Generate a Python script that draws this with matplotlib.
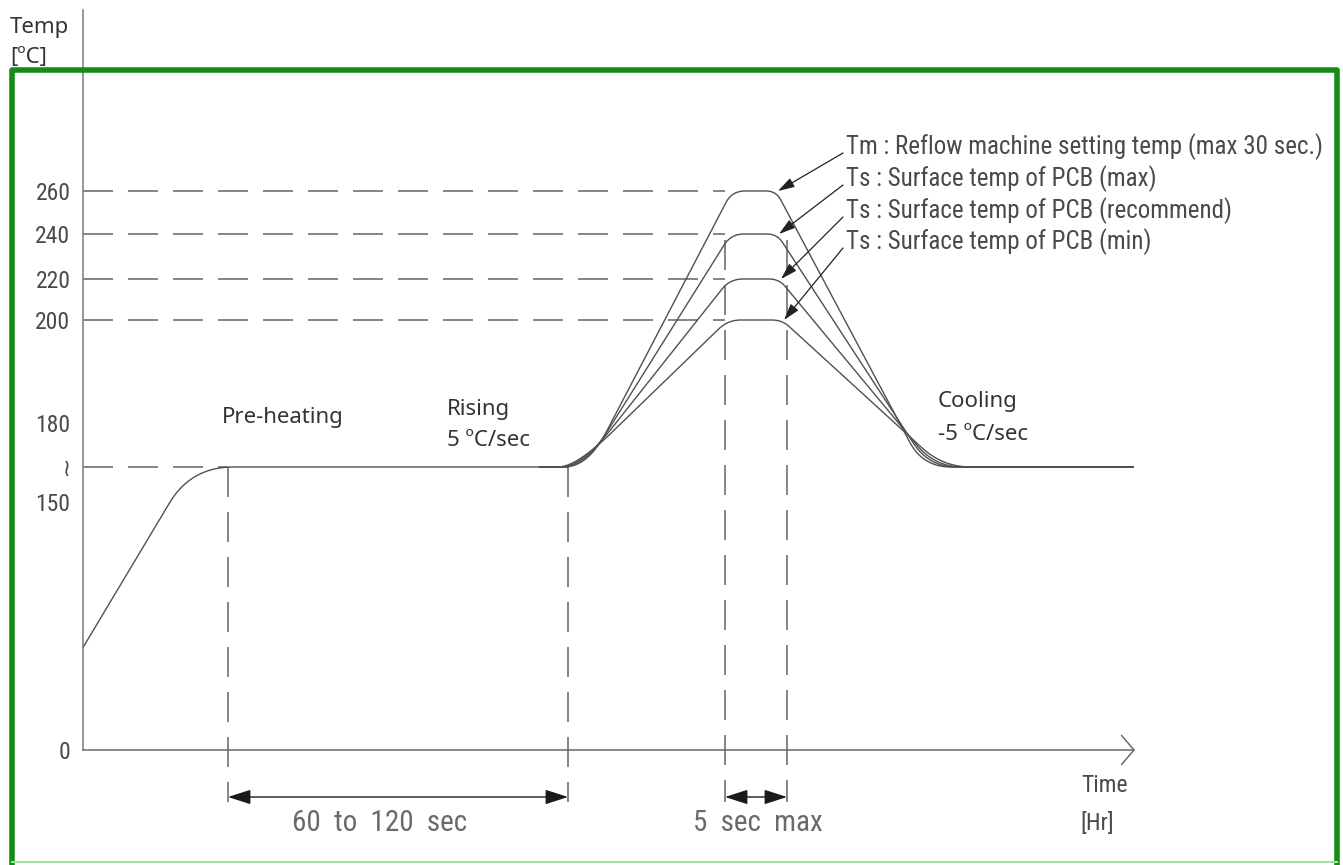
import numpy as np
import matplotlib
matplotlib.use('Agg')
import matplotlib.pyplot as plt
import matplotlib.transforms as mtransforms
from matplotlib.lines import Line2D
from matplotlib.ticker import NullLocator

W, H = 1343, 865

# y axis is not to scale (broken between 150 and 180): temperature -> drawing height
scale_temps = [-200, 0, 150, 165, 180, 200, 220, 240, 260, 400]
scale_pos = [-331, 0, 248, 283, 327, 430, 471, 516, 559, 860]

tick_temps = [0, 150, 165, 180, 200, 220, 240, 260]
tick_labels = ['0', '150', '≀', '180', '200', '220', '240', '260']

# pre-heating part (time in arbitrary units)
preheat_time = [0, 108, 485]
preheat_temp = [62, 165, 165]
soak_temp = 165

# reflow profiles, one per peak temperature
peak_temps = [260, 240, 220, 200]
rise_begin = [457, 457, 457, 457]
rise_knee = [505, 502, 498, 493]
peak_start = [649, 648, 647, 645]
peak_end = [693, 694, 696, 699]
cool_end = [840, 846, 852, 860]
profile_end = [1050, 1050, 1050, 1050]

profile_labels = ['Tm : Reflow machine setting temp (max 30 sec.)',
                  'Ts : Surface temp of PCB (max)',
                  'Ts : Surface temp of PCB (recommend)',
                  'Ts : Surface temp of PCB (min)']

preheat_window = [145, 485]
peak_window = [642, 704]

narrow = ['Roboto Condensed', 'DejaVu Sans']
gothic = ['Noto Sans', 'DejaVu Sans']


def fwd(t):
    return np.interp(t, scale_temps, scale_pos)


def inv(p):
    return np.interp(p, scale_pos, scale_temps)


def px(x, y):
    return x / W, 1 - y / H


def rounded(ts, temps, radii, n=24):
    # round the corners of a polyline in drawing space, then go back to temps
    pts = np.column_stack([np.asarray(ts, float), fwd(np.asarray(temps, float))])
    out = [pts[0]]
    for i in range(1, len(pts) - 1):
        p0, p1, p2 = pts[i - 1], pts[i], pts[i + 1]
        d1, d2 = p0 - p1, p2 - p1
        l1, l2 = np.hypot(*d1), np.hypot(*d2)
        r = radii[i - 1]
        a = p1 + d1 / l1 * min(r, l1 / 2)
        b = p1 + d2 / l2 * min(r, l2 / 2)
        s = np.linspace(0, 1, n)[:, None]
        out.extend((1 - s) ** 2 * a + 2 * (1 - s) * s * p1 + s ** 2 * b)
    out.append(pts[-1])
    out = np.array(out)
    return out[:, 0], inv(out[:, 1])


fig = plt.figure(figsize=(W / 100, H / 100), dpi=100)
fig.patch.set_facecolor('white')
ax = fig.add_axes([83 / W, 1 - 750 / H, (1145 - 83) / W, (750 - 10) / H])
ax.set_yscale('function', functions=(fwd, inv))
ax.set_xlim(0, 1062)
ax.set_ylim(0, inv(740))
blend = mtransforms.blended_transform_factory(ax.transData, fig.transFigure)

for side in ['top', 'right', 'bottom']:
    ax.spines[side].set_visible(False)
ax.spines['left'].set_color('#7a7a7a')
ax.spines['left'].set_linewidth(1.1)
ax.set_xticks([])
ax.set_yticks(tick_temps, tick_labels)
ax.yaxis.set_minor_locator(NullLocator())
ax.tick_params(axis='y', length=0, pad=9, labelsize=17, labelcolor='#4a4a4a')
for lbl in ax.get_yticklabels():
    lbl.set_family(narrow)
    lbl.set_fontstretch('condensed')

# time axis with open arrow
ax.annotate('', xy=(1052, 0), xytext=(0, 0), xycoords='data',
            arrowprops=dict(arrowstyle='->,head_length=0.9,head_width=1.05',
                            color='#6a6a6a', lw=1.1, shrinkA=0, shrinkB=0),
            annotation_clip=False)

dash = dict(color='#707070', lw=1.2, ls=(0, (18, 9)), clip_on=False)
curve = dict(color='#505050', lw=1.0, clip_on=False)

# horizontal guide lines
ax.plot([0, preheat_window[0]], [soak_temp, soak_temp], **dash)
for pk in peak_temps:
    ax.plot([0, peak_window[0]], [pk, pk], **dash)

# vertical guide lines down to the dimension arrows
y_dim = 1 - 797 / H
y_ext = 1 - 802 / H
for t in preheat_window:
    ax.plot([t, t], [1 - 467 / H, y_ext], transform=blend, **dash)
for t in peak_window:
    ax.plot([t, t], [1 - 240 / H, y_ext], transform=blend, **dash)

# pre-heating curve
x, y = rounded(preheat_time, preheat_temp, [42])
ax.plot(x, y, **curve)

# reflow curves
for i, pk in enumerate(peak_temps):
    ts = [rise_begin[i], rise_knee[i], peak_start[i], peak_end[i], cool_end[i], profile_end[i]]
    vals = [soak_temp, soak_temp, pk, pk, soak_temp, soak_temp]
    x, y = rounded(ts, vals, [40 + 3 * i, 13, 10, 28])
    ax.plot(x, y, **curve)

# leader arrows to the labels
label_y = [147, 179, 211, 242]
for i, pk in enumerate(peak_temps):
    ax.annotate('', xy=(peak_end[i] + 2, pk), xycoords='data',
                xytext=px(843, label_y[i] + 6), textcoords='figure fraction',
                arrowprops=dict(arrowstyle='-|>,head_length=1.0,head_width=0.3',
                                color='#222222', lw=0.9, shrinkA=0, shrinkB=0),
                annotation_clip=False)
    fig.text(*px(846, label_y[i]), profile_labels[i], family=narrow, fontsize=18,
             fontstretch='condensed', color='#4a4a4a', ha='left', va='center')

# dimension arrows
for a, b in [preheat_window, peak_window]:
    ax.annotate('', xy=(a, y_dim), xytext=(b, y_dim), xycoords=blend,
                arrowprops=dict(arrowstyle='<|-|>,head_length=1.4,head_width=0.45',
                                color='#1a1a1a', lw=1.0, shrinkA=0, shrinkB=0),
                annotation_clip=False)
fig.text(*px(380, 823), '60  to  120  sec', family=narrow, fontsize=21,
         fontstretch='condensed', color='#6a6a6a', ha='center', va='center')
fig.text(*px(758, 823), '5  sec  max', family=narrow, fontsize=21,
         fontstretch='condensed', color='#6a6a6a', ha='center', va='center')

# axis titles and phase notes
fig.text(*px(10, 27), 'Temp', family=gothic, fontsize=16, color='#333333', va='center')
fig.text(*px(10, 58), '[ºC]', family=gothic, fontsize=16, color='#333333', va='center')
fig.text(*px(1104, 785), 'Time', family=narrow, fontsize=17, fontstretch='condensed',
         color='#4a4a4a', ha='center', va='center')
fig.text(*px(1097, 823), '[Hr]', family=narrow, fontsize=17, fontstretch='condensed',
         color='#4a4a4a', ha='center', va='center')
fig.text(*px(222, 418), 'Pre-heating', family=gothic, fontsize=16, color='#333333', va='center')
fig.text(*px(447, 409), 'Rising', family=gothic, fontsize=16, color='#333333', va='center')
fig.text(*px(447, 441), '5 ºC/sec', family=gothic, fontsize=16, color='#333333', va='center')
fig.text(*px(938, 402), 'Cooling', family=gothic, fontsize=16, color='#333333', va='center')
fig.text(*px(938, 435), '-5 ºC/sec', family=gothic, fontsize=16, color='#333333', va='center')

# green frame
fx = [12, 12, 1337, 1337]
fy = [868, 70, 70, 868]
fig.add_artist(Line2D([v / W for v in fx], [1 - v / H for v in fy],
                      transform=fig.transFigure, color='#158c15', lw=4.0, zorder=5))
fig.add_artist(Line2D([12 / W, 1337 / W], [1 - 862 / H] * 2,
                      transform=fig.transFigure, color='#9fe39f', lw=1.5, zorder=5))

fig.savefig('out.png', dpi=100)
